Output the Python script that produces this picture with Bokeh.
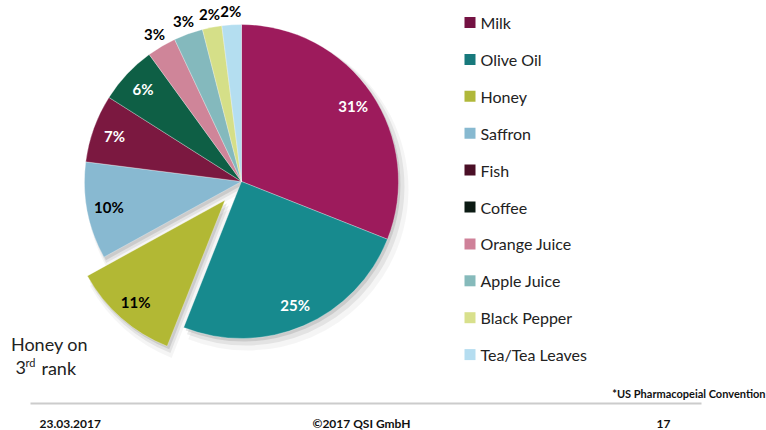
import numpy as np
from bokeh.plotting import figure
from bokeh.models import ColumnDataSource, Range1d, Label
from bokeh.core.properties import value
from bokeh.embed import file_html
from bokeh.resources import INLINE

# ---- data ----
categories = ["Milk", "Olive Oil", "Honey", "Saffron", "Fish", "Coffee",
              "Orange Juice", "Apple Juice", "Black Pepper", "Tea/Tea Leaves"]
shares = [31, 25, 11, 10, 7, 6, 3, 3, 2, 2]
slice_colors = ["#9d1b5c", "#178a8e", "#b2b834", "#88b9d1", "#7b1840",
                "#0e5f45", "#cf8599", "#84b9bd", "#d5df88", "#b4def0"]
legend_colors = ["#741243", "#17797c", "#b0b83a", "#87b9d0", "#4a0f26",
                 "#0b1a13", "#cf8199", "#86babb", "#d8e08c", "#b5ddf0"]
label_colors = ["white", "white", "black", "black", "white", "white",
                "black", "black", "black", "black"]
exploded = "Honey"
footer_left = "23.03.2017"
footer_mid = "\u00a92017 QSI GmbH"
footer_right = "17"
source_note = "*US Pharmacopeial Convention"

# ---- layout (page pixel coordinates) ----
W, H = 766, 430
def Y(py):
    return H - py

CX, CY, R = 241, Y(181), 157
EXPLODE = 25
LABEL_R_IN, LABEL_R_OUT = 135, 171

vals = np.array(shares, dtype=float)
frac = vals / vals.sum()
c1 = np.cumsum(frac)
c0 = c1 - frac
start = np.pi / 2 - 2 * np.pi * c1
end = np.pi / 2 - 2 * np.pi * c0
mid = (start + end) / 2
off = np.array([EXPLODE if c == exploded else 0 for c in categories], dtype=float)
xs = CX + off * np.cos(mid)
ys = CY + off * np.sin(mid)
lr = np.where(frac < 0.05, LABEL_R_OUT, LABEL_R_IN)
lx = xs + lr * np.cos(mid)
ly = ys + lr * np.sin(mid)
labels = [f"{int(v)}%" for v in shares]

src = ColumnDataSource(dict(x=xs, y=ys, start=start, end=end, color=slice_colors,
                            lx=lx, ly=ly, label=labels, lcolor=label_colors,
                            cat=categories))

p = figure(width=W, height=H, x_range=Range1d(0, W), y_range=Range1d(0, H),
           x_axis_type=None, y_axis_type=None, toolbar_location=None,
           output_backend="svg", min_border=0, outline_line_color=None,
           background_fill_color="white", border_fill_color="white")

# soft drop shadow
for dx, dy, rr, a in [(6, -8, 161, 0.04), (4, -5, 159, 0.07), (2, -3, 157, 0.10)]:
    sh = ColumnDataSource(dict(x=xs + dx, y=ys + dy, start=start, end=end))
    p.wedge(x="x", y="y", radius=rr, start_angle="start", end_angle="end",
            direction="anticlock", fill_color="black", fill_alpha=a,
            line_color=None, source=sh)

p.wedge(x="x", y="y", radius=R, start_angle="start", end_angle="end",
        direction="anticlock", fill_color="color", line_color="white",
        line_alpha=0.5, line_width=0.6, source=src)

p.text(x="lx", y="ly", text="label", text_color="lcolor", text_align="center",
       text_baseline="middle", text_font=value("Lato"), text_font_style="bold",
       text_font_size="15px", source=src)

# legend
n = len(categories)
leg_y = [Y(22 + 36.9 * i) for i in range(n)]
leg = ColumnDataSource(dict(x=[469.5] * n, tx=[480] * n, y=leg_y,
                            color=legend_colors, cat=categories))
p.scatter(x="x", y="y", marker="square", size=11, fill_color="color",
          line_color=None, source=leg)
p.text(x="tx", y="y", text="cat", text_color="#222222", text_align="left",
       text_baseline="middle", text_font=value("Lato"), text_font_size="16px",
       source=leg)

# annotation
def lab(x, y, t, size, style="normal", align="left", color="#222222"):
    p.add_layout(Label(x=x, y=y, text=t, text_font="Lato", text_font_size=size,
                       text_font_style=style, text_align=align,
                       text_baseline="middle", text_color=color))

lab(49, Y(343), "Honey on", "18px", align="center")
lab(15, Y(367), "3", "18px")
lab(25, Y(362), "rd", "11px")
lab(41, Y(367), "rank", "18px")

# footer
p.segment(x0=[30], y0=[Y(403)], x1=[701], y1=[Y(403)], line_color="#cccccc",
          line_width=2)
lab(765, Y(393), source_note, "11px", style="bold", align="right", color="#111111")
lab(39, Y(423), footer_left, "12px", style="bold", color="#111111")
lab(312, Y(423), footer_mid, "12px", style="bold", color="#111111")
lab(656, Y(423), footer_right, "12px", style="bold", color="#111111")

open("out.html", "w").write(file_html(p, INLINE))
